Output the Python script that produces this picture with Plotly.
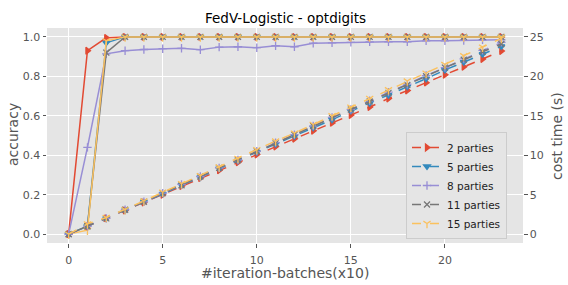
import plotly.graph_objects as go

x_vals = list(range(24))
party_labels = ["2 parties", "5 parties", "8 parties", "11 parties", "15 parties"]
colors = ["#E24A33", "#348ABD", "#988ED5", "#777777", "#FBC15E"]
symbols = ["triangle-right", "triangle-down", "cross-thin-open", "x-thin-open", "y-down-open"]

acc_2 = [0.0, 0.93, 0.995] + [1.0] * 21
acc_5 = [0.0, 0.04, 0.97] + [1.0] * 21
acc_8 = [0.0, 0.44, 0.914, 0.93, 0.936, 0.94, 0.942, 0.935, 0.948, 0.95, 0.945, 0.955,
         0.95, 0.968, 0.97, 0.972, 0.975, 0.975, 0.975, 0.98, 0.98, 0.982, 0.985, 0.985]
acc_11 = [0.0, 0.04, 0.92] + [1.0] * 21
acc_15 = [0.0, 0.02, 0.98] + [1.0] * 21

cost_2 = [0, 1.0, 2.0, 3.0, 4.0, 5.0, 6.1, 7.1, 8.1, 9.1, 10.1, 11.1, 12.1, 13.1, 14.1, 15.1,
          16.1, 17.2, 18.2, 19.2, 20.2, 21.2, 22.2, 23.2]
cost_5 = [0, 1.0, 2.0, 3.0, 4.1, 5.1, 6.2, 7.2, 8.3, 9.3, 10.4, 11.4, 12.4, 13.5, 14.5, 15.6,
          16.6, 17.6, 18.7, 19.7, 20.8, 21.8, 22.8, 23.8]
cost_8 = [0, 1.0, 2.0, 3.1, 4.1, 5.2, 6.3, 7.3, 8.4, 9.4, 10.5, 11.6, 12.6, 13.7, 14.8, 15.8,
          16.9, 18.0, 19.0, 20.1, 21.1, 22.2, 23.3, 24.3]
cost_11 = [0, 1.0, 2.0, 3.1, 4.1, 5.2, 6.2, 7.3, 8.4, 9.4, 10.5, 11.5, 12.6, 13.7, 14.7, 15.8,
           16.8, 17.9, 18.9, 20.0, 21.1, 22.1, 23.1, 24.1]
cost_15 = [0, 1.3, 2.1, 3.1, 4.2, 5.3, 6.4, 7.4, 8.5, 9.6, 10.7, 11.8, 12.8, 13.9, 15.0, 16.1,
           17.2, 18.3, 19.4, 20.4, 21.5, 22.6, 23.7, 24.8]

accs = [acc_2, acc_5, acc_8, acc_11, acc_15]
costs = [cost_2, cost_5, cost_8, cost_11, cost_15]

fig = go.Figure()
for lab, c, s, a in zip(party_labels, colors, symbols, accs):
    fig.add_trace(go.Scatter(x=x_vals, y=a, mode="lines+markers", showlegend=False,
                             line=dict(color=c, width=1.5),
                             marker=dict(symbol=s, size=6, color=c, line=dict(color=c, width=1.3)),
                             yaxis="y"))
for lab, c, s, t in zip(party_labels, colors, symbols, costs):
    fig.add_trace(go.Scatter(x=x_vals, y=t, mode="lines+markers", name=lab,
                             line=dict(color=c, width=1.5, dash="dash"),
                             marker=dict(symbol=s, size=6, color=c, line=dict(color=c, width=1.3)),
                             yaxis="y2"))

axfont = dict(family="DejaVu Sans", size=11, color="#555555")
titlefont = dict(family="DejaVu Sans", size=14, color="#555555")

# plot area in pixels: x 47..523, y 28..243
W, H = 568, 285
L, R, T, B = 47, 523, 28, 243
pw, ph = R - L, B - T

def px(xp):
    return (xp - L) / pw

def py(yp):
    return (B - yp) / ph

fig.update_layout(
    width=W, height=H,
    margin=dict(l=L, r=W - R, t=T, b=H - B, autoexpand=False),
    paper_bgcolor="white", plot_bgcolor="#E5E5E5",
    font=dict(family="DejaVu Sans", color="#555555"),
    xaxis=dict(range=[-1.15, 24.15], tickvals=[0, 5, 10, 15, 20], showgrid=True, gridcolor="white",
               gridwidth=1, zeroline=False, ticks="outside", ticklen=3.5, tickcolor="#555555",
               tickfont=axfont, showline=False, automargin=False, ticklabelstandoff=3),
    yaxis=dict(range=[-0.045, 1.045], tickvals=[0, 0.2, 0.4, 0.6, 0.8, 1.0],
               ticktext=["0.0", "0.2", "0.4", "0.6", "0.8", "1.0"], showgrid=True, gridcolor="white",
               gridwidth=1, zeroline=False, ticks="outside", ticklen=3.5, tickcolor="#555555",
               tickfont=axfont, automargin=False),
    yaxis2=dict(range=[-0.045 * 25, 1.045 * 25], tickvals=[0, 5, 10, 15, 20, 25], overlaying="y",
                side="right", showgrid=True, gridcolor="white", gridwidth=1, zeroline=False,
                ticks="outside", ticklen=3.5, tickcolor="#555555", tickfont=axfont, automargin=False),
    legend=dict(x=px(406), y=py(132), xanchor="left", yanchor="top", bgcolor="#E5E5E5",
                bordercolor="#CCCCCC", borderwidth=1,
                font=dict(family="DejaVu Sans", size=10.5, color="#222222"),
                tracegroupgap=0, itemwidth=30),
    annotations=[
        dict(text="FedV-Logistic - optdigits", xref="paper", yref="paper", x=0.5, y=py(17.5),
             xanchor="center", yanchor="middle", showarrow=False,
             font=dict(family="DejaVu Sans", size=13.5, color="black")),
        dict(text="#iteration-batches(x10)", xref="paper", yref="paper", x=0.5, y=py(273),
             xanchor="center", yanchor="middle", showarrow=False, font=titlefont),
        dict(text="accuracy", xref="paper", yref="paper", x=px(13), y=py(135),
             xanchor="center", yanchor="middle", showarrow=False, textangle=-90, font=titlefont),
        dict(text="cost time (s)", xref="paper", yref="paper", x=px(557), y=py(136),
             xanchor="center", yanchor="middle", showarrow=False, textangle=-90, font=titlefont),
    ],
)

fig.write_html("out.html", config={"displayModeBar": False},
               post_script="document.body.style.margin='0';document.body.style.overflow='hidden';")
